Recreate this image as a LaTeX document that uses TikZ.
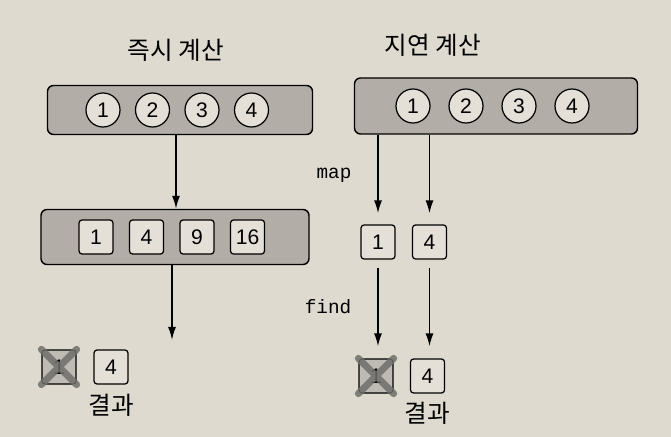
\documentclass[tikz,border=0pt]{standalone}
\usepackage{fontspec}
\setmainfont{Liberation Sans}
\setmonofont{Liberation Mono}
\newfontfamily\kofont{Noto Sans CJK KR}
\usetikzlibrary{positioning, arrows.meta}

\definecolor{paper}{RGB}{222,218,208}
\definecolor{seqfill}{RGB}{178,174,167}
\definecolor{cellfill}{RGB}{228,224,215}
\definecolor{crossgray}{RGB}{112,110,106}

\tikzstyle{seq} = [rectangle, draw, fill=seqfill, rounded corners=1.2mm, line width=.8pt, inner sep=0pt]
\tikzstyle{elem} = [circle, draw, fill=cellfill, minimum size=6.8mm, inner sep=0pt, line width=.7pt, font=\fontsize{12}{14}\selectfont]
\tikzstyle{val} = [rectangle, draw, fill=cellfill, rounded corners=.6mm, minimum size=6.8mm, inner sep=0pt, line width=.7pt, font=\fontsize{12}{14}\selectfont]
\tikzstyle{gone} = [val, fill=seqfill!85]
\tikzstyle{title} = [font=\kofont\fontsize{14}{16}\selectfont]
\tikzstyle{op} = [font=\ttfamily\fontsize{11}{13}\selectfont]
\tikzstyle{line} = [draw, -{Latex[length=2.6mm, width=1.6mm]}, line width=.9pt]
\tikzstyle{strike} = [draw=crossgray, line width=4pt, opacity=.85, line cap=round]

\begin{document}
\begin{tikzpicture}[x=0.2mm, y=-0.2mm, node distance = 1cm]

    % paper
        \fill[paper] (0,0) rectangle (671,437);
        \useasboundingbox (0,0) rectangle (671,437);

    % EAGER (left)
        \node [title] (eagerT) at (176,50) {즉시 계산};
        \node [seq, minimum width=5.3cm, minimum height=.98cm]
            (eagerSrc) at (180,110) {};
        \node [elem] (e1) at (103,110) {1};
        \node [elem, right of=e1, node distance=.99cm] (e2) {2};
        \node [elem, right of=e2, node distance=.99cm] (e3) {3};
        \node [elem, right of=e3, node distance=.99cm] (e4) {4};

        \node [seq, minimum width=5.36cm, minimum height=1.1cm]
            (eagerMap) at (175,237) {};
        \node [val] (s1) at (96,237) {1};
        \node [val, right of=s1, node distance=1.01cm] (s2) {4};
        \node [val, right of=s2, node distance=1.01cm] (s3) {9};
        \node [val, right of=s3, node distance=1.01cm] (s4) {16};

        \node [gone] (r1) at (59,367) {1};
        \node [val, right of=r1, node distance=1.04cm] (r2) {4};
        \node [title, below of=r2, node distance=.76cm] (eagerRes) {결과};
        \path[strike] (r1.north west) -- (r1.south east)
                      (r1.south west) -- (r1.north east);

        \coordinate (eagerEnd) at (172,340);

    % LINE eagerSrc -> eagerMap -> result
        \path[line] (eagerSrc.south -| 176,0) -- (eagerMap.north -| 176,0);
        \path[line] (eagerMap.south -| eagerEnd) -- (eagerEnd);

    % LAZY (right)
        \node [title] (lazyT) at (433,45) {지연 계산};
        \node [seq, minimum width=5.66cm, minimum height=1.12cm]
            (lazySrc) at (496,106) {};
        \node [elem] (l1) at (413,106) {1};
        \node [elem, right of=l1, node distance=1.06cm] (l2) {2};
        \node [elem, right of=l2, node distance=1.06cm] (l3) {3};
        \node [elem, right of=l3, node distance=1.06cm] (l4) {4};

        \node [val] (m1) at (378,242) {1};
        \node [val, right of=m1, node distance=1.03cm] (m2) {4};

        \node [gone] (f1) at (376,376) {1};
        \node [val, right of=f1, node distance=1.03cm] (f2) {4};
        \node [title, below of=f2, node distance=.74cm] (lazyRes) {결과};
        \path[strike] (f1.north west) -- (f1.south east)
                      (f1.south west) -- (f1.north east);

        \node [op] (mapL) at (334,175) {map};
        \node [op] (findL) at (328,307) {find};

    % LINE lazySrc -> m1, m2 (map)
        \path[line, shorten >=2.2mm] (lazySrc.south -| m1) -- (m1);
        \path[line, shorten >=2.2mm] (lazySrc.south -| m2) -- (m2);
    % LINE m1, m2 -> f1, f2 (find)
        \path[line, shorten <=1.6mm, shorten >=2.4mm] (m1) -- (m1 |- f1.north);
        \path[line, shorten <=1.6mm, shorten >=2.4mm] (m2) -- (m2 |- f2.north);
\end{tikzpicture}
\end{document}
